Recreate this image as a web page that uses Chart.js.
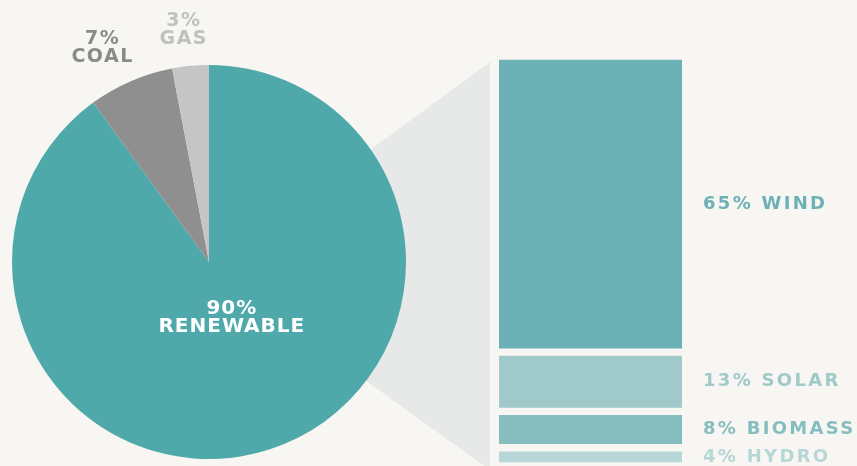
<!DOCTYPE html>
<html>
<head>
<meta charset="utf-8">
<script src="https://cdn.jsdelivr.net/npm/chart.js@4.4.1/dist/chart.umd.min.js"></script>
<style>
  html, body { margin: 0; padding: 0; background: #f7f6f2; overflow: hidden; }
  #wrap { position: relative; width: 857px; height: 466px; }
  #pie { position: absolute; left: 0; top: 0; }
  #mix { position: absolute; left: 490px; top: 0; }
</style>
</head>
<body>
<div id="wrap">
  <canvas id="pie" width="490" height="466"></canvas>
  <canvas id="mix" width="367" height="466"></canvas>
</div>
<script>
const bgColor = "#f7f6f2";

// overall split
const pieLabels = ["RENEWABLE", "COAL", "GAS"];
const pieValues = [90, 7, 3];
const pieColors = ["#4fa9ab", "#8f8f8f", "#c5c5c5"];
const pieTextColors = ["#ffffff", "#8a8a8a", "#c0c0c0"];

// renewable breakdown
const mixLabels = ["WIND", "SOLAR", "BIOMASS", "HYDRO"];
const mixValues = [65, 13, 8, 4];
const mixColors = ["#6cb1b6", "#a0c9ca", "#86bdbf", "#b6d6d7"];

const FONT = "'DejaVu Sans', sans-serif";

// grey wedge joining the pie to the bar, drawn under the slices
const wedgePlugin = {
  id: "wedge",
  beforeDatasetsDraw(chart) {
    const arc = chart.getDatasetMeta(0).data[0];
    const ctx = chart.ctx;
    ctx.save();
    ctx.fillStyle = "#e6e9e8";
    ctx.beginPath();
    ctx.moveTo(arc.x, arc.y + 6);
    ctx.lineTo(chart.width, 62);
    ctx.lineTo(chart.width, chart.height + 4);
    ctx.closePath();
    ctx.fill();
    ctx.restore();
  }
};

const pieLabelPlugin = {
  id: "pieLabels",
  afterDatasetsDraw(chart) {
    const ctx = chart.ctx;
    const meta = chart.getDatasetMeta(0);
    ctx.save();
    ctx.textAlign = "center";
    ctx.textBaseline = "middle";
    meta.data.forEach((arc, i) => {
      const mid = (arc.startAngle + arc.endAngle) / 2;
      const inside = i === 0;
      const dist = inside ? arc.outerRadius * 0.3 : arc.outerRadius + 36;
      const x = arc.x + Math.cos(mid) * dist * (inside ? 1.25 : 1.15);
      const y = arc.y + Math.sin(mid) * dist;
      ctx.fillStyle = pieTextColors[i];
      ctx.font = "bold " + (inside ? 20 : 19) + "px " + FONT;
      ctx.letterSpacing = inside ? "1px" : "1.5px";
      const gap = 9;
      ctx.fillText(pieValues[i] + "%", x, y - gap);
      ctx.fillText(pieLabels[i], x, y + gap);
    });
    ctx.restore();
  }
};

new Chart(document.getElementById("pie"), {
  type: "pie",
  data: {
    labels: pieLabels,
    datasets: [{
      data: pieValues,
      backgroundColor: pieColors,
      borderWidth: 0
    }]
  },
  options: {
    responsive: false,
    animation: false,
    layout: { padding: { left: 12, top: 65, right: 84, bottom: 7 } },
    plugins: { legend: { display: false }, tooltip: { enabled: false } }
  },
  plugins: [wedgePlugin, pieLabelPlugin]
});

const mixLabelPlugin = {
  id: "mixLabels",
  afterDatasetsDraw(chart) {
    const ctx = chart.ctx;
    ctx.save();
    ctx.textAlign = "left";
    ctx.textBaseline = "middle";
    ctx.font = "bold 18px " + FONT;
    ctx.letterSpacing = "2.3px";
    chart.data.datasets.forEach((ds, i) => {
      const bar = chart.getDatasetMeta(i).data[0];
      const yMid = (bar.y + bar.base) / 2;
      const xRight = bar.x + bar.width / 2;
      ctx.fillStyle = mixColors[i];
      ctx.fillText(mixValues[i] + "% " + mixLabels[i], xRight + 21, yMid);
    });
    ctx.restore();
  }
};

new Chart(document.getElementById("mix"), {
  type: "bar",
  data: {
    labels: [""],
    datasets: mixLabels.map((name, i) => ({
      label: name,
      data: [mixValues[i]],
      backgroundColor: mixColors[i],
      borderColor: bgColor,
      borderWidth: { top: 4, bottom: 4, left: 0, right: 0 },
      borderSkipped: false,
      barPercentage: 1,
      categoryPercentage: 1
    }))
  },
  options: {
    responsive: false,
    animation: false,
    layout: { padding: { left: 9, top: 56, right: 175, bottom: 0 } },
    scales: {
      x: { stacked: true, display: false },
      y: { stacked: true, display: false, reverse: true, min: 0, max: 90 }
    },
    plugins: { legend: { display: false }, tooltip: { enabled: false } }
  },
  plugins: [mixLabelPlugin]
});
</script>
</body>
</html>
